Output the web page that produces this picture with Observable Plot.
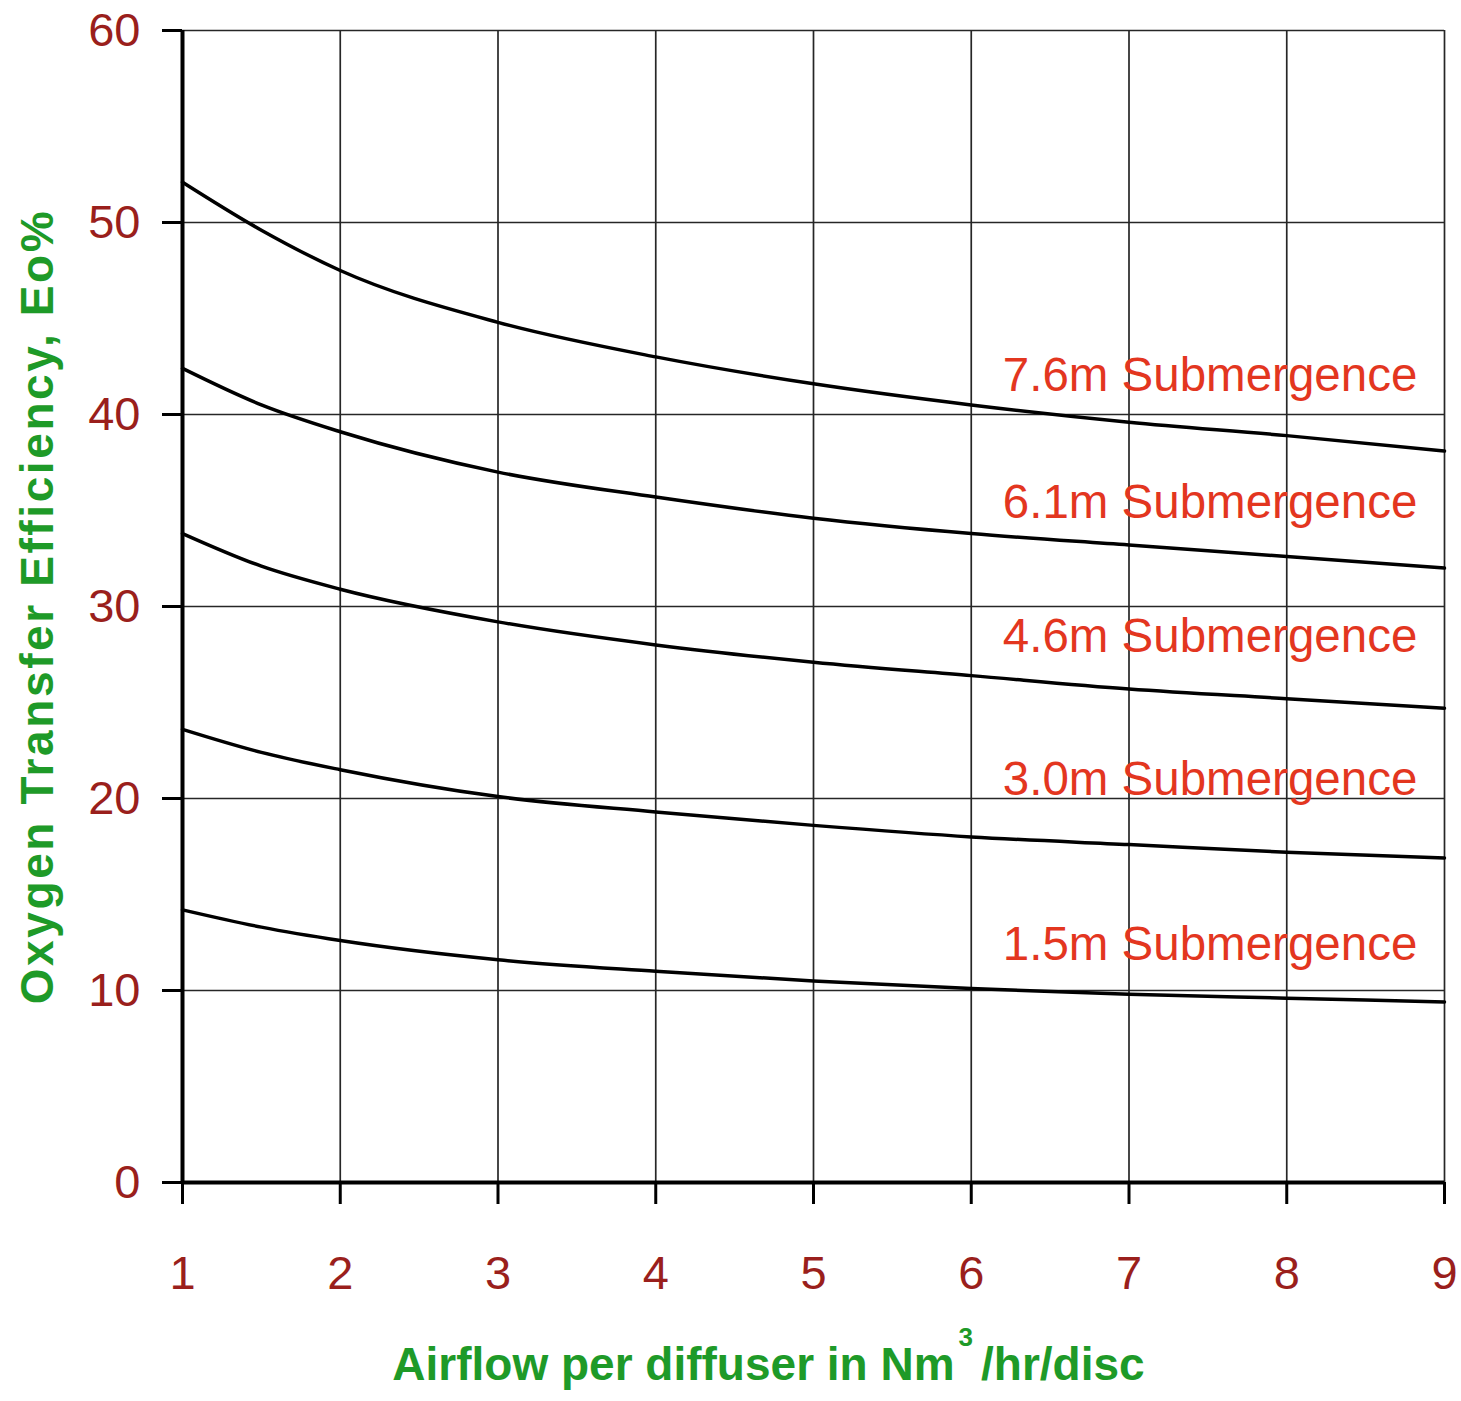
<!DOCTYPE html>
<html><head><meta charset="utf-8">
<script src="https://cdn.jsdelivr.net/npm/d3@7"></script>
<script src="https://cdn.jsdelivr.net/npm/@observablehq/plot@0.6"></script>
<style>body{margin:0;background:#fff} svg{overflow:visible}</style>
</head><body><div id="chart"></div>
<script>
const airflow = [1, 1.5, 2, 3, 4, 5, 6, 7, 8, 9];
const sub76 = [52.1, 49.6, 47.5, 44.8, 43.0, 41.6, 40.5, 39.6, 38.9, 38.1];
const sub61 = [42.4, 40.5, 39.1, 37.0, 35.7, 34.6, 33.8, 33.2, 32.6, 32.0];
const sub46 = [33.8, 32.1, 30.9, 29.2, 28.0, 27.1, 26.4, 25.7, 25.2, 24.7];
const sub30 = [23.6, 22.4, 21.5, 20.1, 19.3, 18.6, 18.0, 17.6, 17.2, 16.9];
const sub15 = [14.2, 13.3, 12.6, 11.6, 11.0, 10.5, 10.1, 9.8, 9.6, 9.4];
const seriesNames = ["7.6m Submergence", "6.1m Submergence", "4.6m Submergence", "3.0m Submergence", "1.5m Submergence"];
const labelX = [6.2, 6.2, 6.2, 6.2, 6.2];
const labelY = [42.0, 35.4, 28.4, 21.0, 12.4];
const xTicks = [1, 2, 3, 4, 5, 6, 7, 8, 9];
const yTicks = [0, 10, 20, 30, 40, 50, 60];
const xTitle = "Airflow per diffuser in Nm3/hr/disc";
const yTitle = "Oxygen Transfer Efficiency, Eo%";

const allSeries = [sub76, sub61, sub46, sub30, sub15];
const rows = [];
allSeries.forEach((vals, i) => vals.forEach((v, j) => rows.push({series: seriesNames[i], x: airflow[j], y: v})));
const labels = seriesNames.map((s, i) => ({label: s, x: labelX[i], y: labelY[i]}));

const tickRed = "#9a1f1c";
const green = "#1e9a28";

const chart = Plot.plot({
  width: 1461, height: 1401,
  marginLeft: 182, marginRight: 17, marginTop: 30, marginBottom: 219,
  style: {fontFamily: "'Liberation Sans', Arial, sans-serif", background: "#fff"},
  x: {domain: [1, 9]},
  y: {domain: [0, 60]},
  marks: [
    Plot.gridX(xTicks, {stroke: "#262626", strokeWidth: 1.7, strokeOpacity: 1}),
    Plot.gridY(yTicks, {stroke: "#262626", strokeWidth: 1.7, strokeOpacity: 1}),
    Plot.axisX(xTicks, {tickSize: 22, tickPadding: 51, fontSize: 47, stroke: "#000", fill: tickRed, strokeWidth: 3, tickFormat: d => String(d), label: null}),
    Plot.axisY(yTicks, {tickSize: 20, tickPadding: 22, fontSize: 47, stroke: "#000", fill: tickRed, strokeWidth: 3, tickFormat: d => String(d), label: null}),
    Plot.ruleX([1], {y1: 0, y2: 60, stroke: "#000", strokeWidth: 4}),
    Plot.ruleY([0], {x1: 1, x2: 9, stroke: "#000", strokeWidth: 4}),
    Plot.line(rows, {x: "x", y: "y", z: "series", curve: "monotone-x", stroke: "#000", strokeWidth: 3.5}),
    Plot.text(labels, {x: "x", y: "y", text: "label", textAnchor: "start", fill: "#e3361f", fontSize: 47.5}),
    Plot.text([yTitle], {frameAnchor: "left", textAnchor: "middle", lineAnchor: "middle", rotate: -90, dx: -144, fill: green, fontWeight: "bold", fontSize: 46}),
    Plot.text([xTitle], {frameAnchor: "bottom", textAnchor: "middle", lineAnchor: "middle", dy: 183, dx: -45, fill: green, fontWeight: "bold", fontSize: 46})
  ]
});
document.getElementById("chart").appendChild(chart);

// wider tracking for the y-axis title, as in the reference
d3.select(chart).selectAll("text").filter(function() { return this.textContent === yTitle; })
  .attr("letter-spacing", 2.6);

// superscript for the x-axis title
d3.select(chart).selectAll("text").filter(function() { return this.textContent === xTitle; }).each(function() {
  const t = d3.select(this);
  t.text(null);
  t.append("tspan").text("Airflow per diffuser in Nm");
  t.append("tspan").attr("dy", -34).attr("dx", 4).attr("font-size", 26).text("3");
  t.append("tspan").attr("dy", 34).attr("dx", 8).text("/hr/disc");
});
</script></body></html>
